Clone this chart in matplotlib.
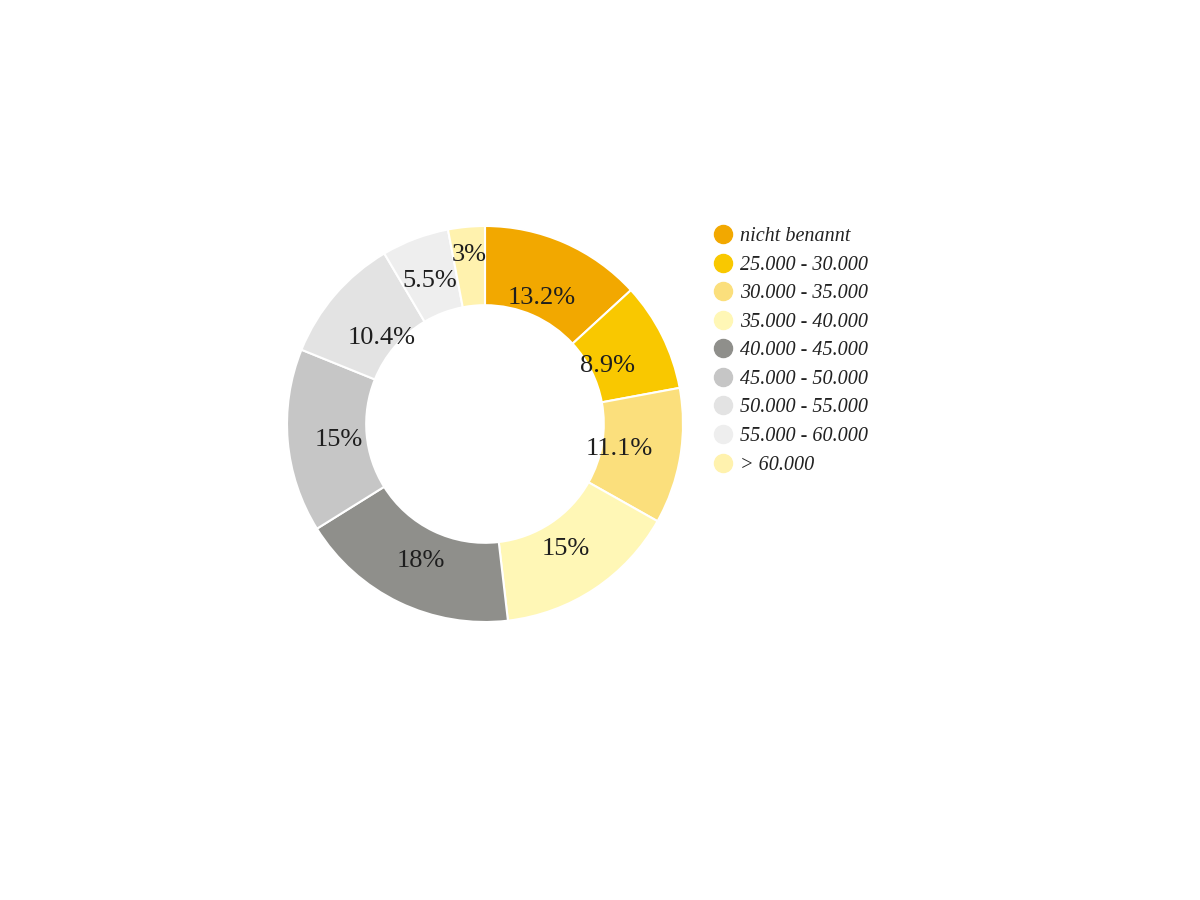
import numpy as np
import matplotlib.pyplot as plt
from matplotlib.lines import Line2D

categories = ['nicht benannt', '25.000 - 30.000', '30.000 - 35.000', '35.000 - 40.000',
              '40.000 - 45.000', '45.000 - 50.000', '50.000 - 55.000', '55.000 - 60.000',
              '> 60.000']
shares = [13.2, 8.9, 11.1, 15, 18, 15, 10.4, 5.5, 3]
labels = ['13.2%', '8.9%', '11.1%', '15%', '18%', '15%', '10.4%', '5.5%', '3%']
colors = ['#F2A800', '#F9C800', '#FBDF7C', '#FFF7B6', '#8F8F8B', '#C6C6C6',
          '#E3E3E3', '#EEEEEE', '#FFF2AE']
# radial placement of each label (fraction of outer radius)
label_r = [0.71, 0.69, 0.69, 0.74, 0.75, 0.74, 0.69, 0.79, 0.87]

plt.rcParams['font.family'] = ['Liberation Serif', 'DejaVu Serif']

fig = plt.figure(figsize=(12, 9), dpi=100)
# donut centre around (485, 424) px, outer radius ~198 px
ax = fig.add_axes([(485 - 198) / 1200, (900 - 424 - 198) / 900, 396 / 1200, 396 / 900])
wedges, _ = ax.pie(shares, colors=colors, startangle=90, counterclock=False, radius=1,
                   wedgeprops=dict(width=0.4, edgecolor='white', linewidth=1.5))

total = sum(shares)
angle = 90.0
for val, lab, r in zip(shares, labels, label_r):
    mid = angle - val / total * 360 / 2
    angle -= val / total * 360
    ax.text(r * np.cos(np.radians(mid)), r * np.sin(np.radians(mid)) - 0.015, lab,
            ha='center', va='center', fontsize=19, color='#1e1e1e')
ax.set_xlim(-1, 1)
ax.set_ylim(-1, 1)
ax.set_aspect('equal')
ax.axis('off')

handles = [Line2D([0], [0], marker='o', linestyle='', markersize=13,
                  markerfacecolor=c, markeredgecolor=c) for c in colors]
leg = fig.legend(handles, categories, loc='upper left', bbox_to_anchor=(711 / 1200, 1 - 227 / 900),
                 frameon=False, prop=dict(style='italic', size=14.5), labelspacing=0.47,
                 handletextpad=0.25, handlelength=1.2, borderaxespad=0, borderpad=0)
for t in leg.get_texts():
    t.set_color('#222222')

fig.savefig('out.png', dpi=100, facecolor='white')
